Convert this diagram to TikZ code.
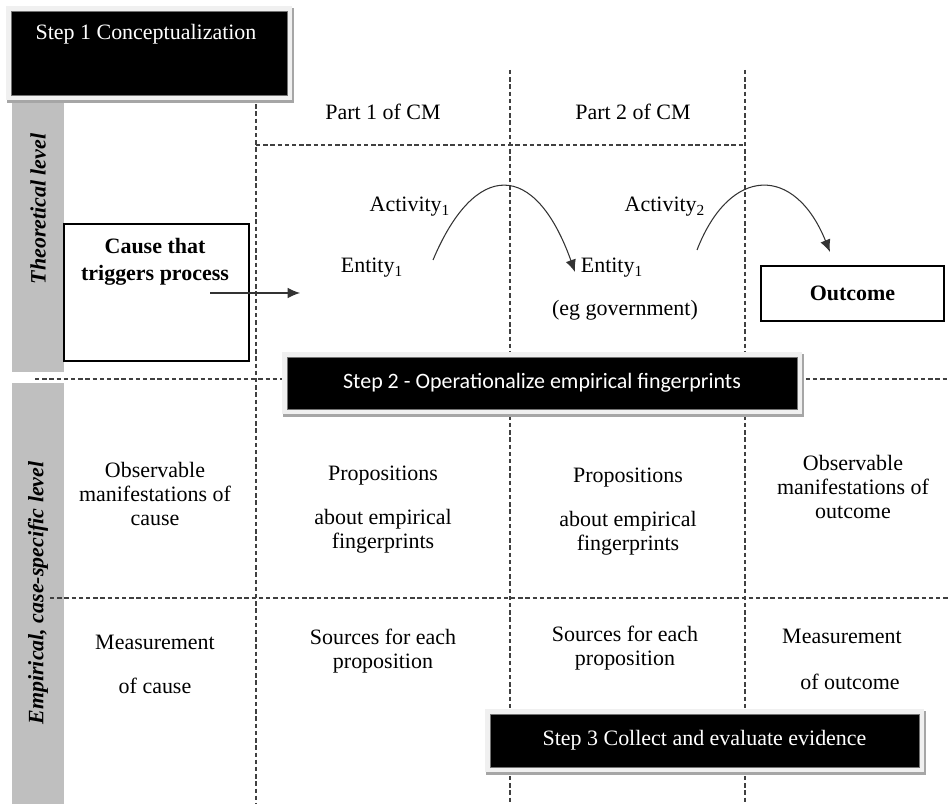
\documentclass[tikz,border=0pt]{standalone}
\usepackage{fontspec}
\setmainfont{Liberation Serif}
\newfontfamily\stepfont{Carlito}
\usetikzlibrary{positioning,arrows.meta}

\newcommand{\pxu}{0.02cm}

\tikzset{
  sepline/.style={black!75, line width=0.6pt, dash pattern=on 2.5pt off 1.6pt},
  levelbar/.style={fill=black!25, draw=none},
  leveltext/.style={rotate=90, font=\fontsize{12.5}{14}\selectfont\bfseries\itshape},
  stepbox/.style={fill=black, text=white, draw=black!55, line width=0.5pt, inner sep=0pt,
    preaction={draw=black!35, line width=6pt, transform canvas={xshift=0.8pt, yshift=-1.4pt}},
    preaction={draw=black!6, line width=6pt}},
  framebox/.style={draw=black, line width=1.3pt, inner sep=0pt},
  cell/.style={align=center, inner sep=1pt},
  flow/.style={black!80, line width=0.6pt, -{Latex[length=7pt,width=6pt]}}
}

\begin{document}
\begin{tikzpicture}[x=\pxu, y=-\pxu, font=\fontsize{12.5}{13.6}\selectfont]
    \useasboundingbox (0,0) rectangle (948,804);

    % Level bars on the left
    \fill[levelbar] (12,98) rectangle (64,372);
    \fill[levelbar] (12,383) rectangle (64,804);
    \node[leveltext] (theolvl) at (38,209) {Theoretical level};
    \node[leveltext] (emplvl) at (38,593) {Empirical, case-specific level};

    % Dashed grid
    \draw[sepline] (256,97) -- (256,804);
    \draw[sepline] (510,70) -- (510,804);
    \draw[sepline] (745,70) -- (745,804);
    \draw[sepline] (256,145) -- (745,145);
    \draw[sepline] (35,379) -- (948,379);
    \draw[sepline] (50,598) -- (948,598);

    % Step 1
    \node[stepbox, minimum width=276*\pxu, minimum height=84*\pxu] (step1) at (149,53) {};
    \node[text=white] (step1lbl) at (146,34) {Step 1 Conceptualization};

    % Columns of the causal mechanism
    \node (part1) at (383,112) {Part 1 of CM};
    \node (part2) at (633,112) {Part 2 of CM};

    \node[framebox, minimum width=185*\pxu, minimum height=137*\pxu] (causebox) at (156.5,292.5) {};
    \node[cell, font=\fontsize{12.5}{15.5}\selectfont\bfseries] (causelbl) at (155,262) {Cause that\\triggers process};

    \node (act1) at (410,207) {Activity\textsubscript{1}};
    \node (ent1) at (372,268) {Entity\textsubscript{1}};
    \node (act2) at (665,207) {Activity\textsubscript{2}};
    \node (ent2) at (612,268) {Entity\textsubscript{1}};
    \node (egov) at (625,310) {(eg government)};

    \node[framebox, minimum width=183*\pxu, minimum height=55*\pxu, font=\fontsize{12.5}{13.6}\selectfont\bfseries] (outcome) at (852.5,293.5) {Outcome};

    % Arrows of the mechanism
    \coordinate (causeout) at (210,293);
    \coordinate (causein) at (300,293);
    \coordinate (act1s) at (433,260);
    \coordinate (act1e) at (575,272);
    \coordinate (act2s) at (697,250);
    \coordinate (act2e) at (830,252);
    \draw[flow] (causeout) -- (causein);
    \draw[flow] (act1s) .. controls (475,160) and (535,160) .. (act1e);
    \draw[flow] (act2s) .. controls (730,165) and (795,165) .. (act2e);

    % Step 2
    \node[stepbox, minimum width=510*\pxu, minimum height=52*\pxu,
          font=\stepfont\fontsize{12.5}{13.6}\selectfont] (step2) at (542,383) {Step 2 - Operationalize empirical fingerprints};

    % Empirical fingerprints
    \node[cell] (obscause) at (155,494) {Observable\\manifestations of\\cause};
    \node[cell] (prop1a) at (383,476) {Propositions};
    \node[cell] (prop1b) at (383,531) {about empirical\\fingerprints};
    \node[cell] (prop2a) at (628,478) {Propositions};
    \node[cell] (prop2b) at (628,533) {about empirical\\fingerprints};
    \node[cell] (obsout) at (853,487) {Observable\\manifestations of\\outcome};

    % Measurement
    \node[cell] (meascausea) at (155,642) {Measurement};
    \node[cell] (meascauseb) at (155,686) {of cause};
    \node[cell] (src1) at (383,651) {Sources for each\\proposition};
    \node[cell] (src2) at (625,648) {Sources for each\\proposition};
    \node[cell] (measouta) at (842,636) {Measurement};
    \node[cell] (measoutb) at (850,682) {of outcome};

    % Step 3
    \node[stepbox, minimum width=429*\pxu, minimum height=53*\pxu] (step3) at (704.5,740.5) {Step 3 Collect and evaluate evidence};
\end{tikzpicture}
\end{document}
